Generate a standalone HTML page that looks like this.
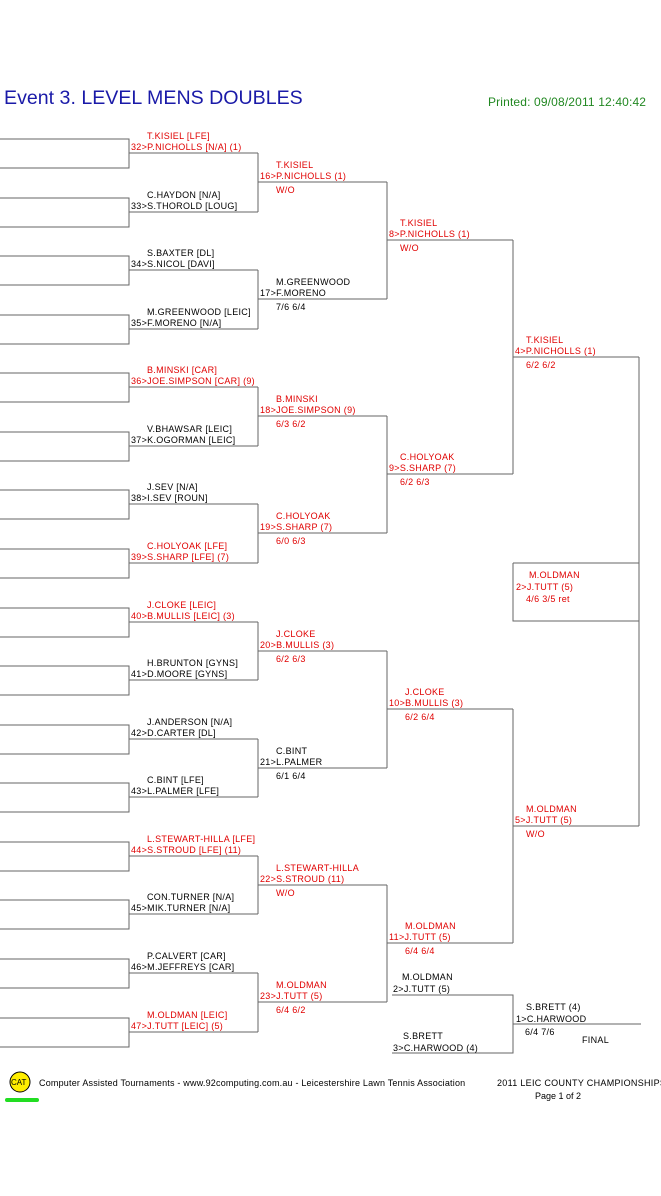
<!DOCTYPE html>
<html><head><meta charset="utf-8"><style>
html,body{margin:0;padding:0;background:#fff;}
svg{display:block;}
text{font-family:"Liberation Sans",Arial,sans-serif;font-size:9px;letter-spacing:0.3px;fill:#000;}
.r{fill:#e00000;}
</style></head><body>
<svg width="661" height="1196" viewBox="0 0 661 1196" xmlns="http://www.w3.org/2000/svg">
<rect width="661" height="1196" fill="#fff"/>
<text x="4" y="104" style="font-size:19.6px;letter-spacing:0;fill:#1a1aa8">Event 3. LEVEL MENS DOUBLES</text>
<text x="488" y="106" style="font-size:12px;letter-spacing:0.15px;fill:#228822">Printed: 09/08/2011 12:40:42</text>
<g fill="none" stroke="#666" stroke-width="1" shape-rendering="crispEdges">
<path d="M0 139H129V168H0M0 198H129V227H0M0 256H129V285H0M0 315H129V344H0M0 373H129V402H0M0 432H129V461H0M0 490H129V519H0M0 549H129V578H0M0 608H129V637H0M0 666H129V695H0M0 725H129V754H0M0 783H129V812H0M0 842H129V871H0M0 900H129V929H0M0 959H129V988H0M0 1018H129V1047H0"/>
<path d="M129 153H258M129 212H258M129 270H258M129 329H258M129 387H258M129 446H258M129 504H258M129 563H258M129 622H258M129 680H258M129 739H258M129 797H258M129 856H258M129 914H258M129 973H258M129 1032H258"/>
<path d="M258 153V212M258 270V329M258 387V446M258 504V563M258 622V680M258 739V797M258 856V914M258 973V1032"/>
<path d="M258 182H387M258 299H387M258 416H387M258 533H387M258 651H387M258 768H387M258 885H387M258 1002H387"/>
<path d="M387 182V299M387 416V533M387 651V768M387 885V1002"/>
<path d="M387 240H513M387 474H513M387 709H513M387 943H513"/>
<path d="M513 240V474M513 709V943"/>
<path d="M513 357H639M513 826H639M639 357V826"/>
<path d="M513 563H639M513 563V621H639"/>
<path d="M392 995H513V1053H392M513 1024H641"/>
</g>
<text x="147" y="139" class="r">T.KISIEL [LFE]</text><text x="131" y="150" class="r">32&gt;P.NICHOLLS [N/A] (1)</text>
<text x="147" y="198">C.HAYDON [N/A]</text><text x="131" y="209">33&gt;S.THOROLD [LOUG]</text>
<text x="147" y="256">S.BAXTER [DL]</text><text x="131" y="267">34&gt;S.NICOL [DAVI]</text>
<text x="147" y="315">M.GREENWOOD [LEIC]</text><text x="131" y="326">35&gt;F.MORENO [N/A]</text>
<text x="147" y="373" class="r">B.MINSKI [CAR]</text><text x="131" y="384" class="r">36&gt;JOE.SIMPSON [CAR] (9)</text>
<text x="147" y="432">V.BHAWSAR [LEIC]</text><text x="131" y="443">37&gt;K.OGORMAN [LEIC]</text>
<text x="147" y="490">J.SEV [N/A]</text><text x="131" y="501">38&gt;I.SEV [ROUN]</text>
<text x="147" y="549" class="r">C.HOLYOAK [LFE]</text><text x="131" y="560" class="r">39&gt;S.SHARP [LFE] (7)</text>
<text x="147" y="608" class="r">J.CLOKE [LEIC]</text><text x="131" y="619" class="r">40&gt;B.MULLIS [LEIC] (3)</text>
<text x="147" y="666">H.BRUNTON [GYNS]</text><text x="131" y="677">41&gt;D.MOORE [GYNS]</text>
<text x="147" y="725">J.ANDERSON [N/A]</text><text x="131" y="736">42&gt;D.CARTER [DL]</text>
<text x="147" y="783">C.BINT [LFE]</text><text x="131" y="794">43&gt;L.PALMER [LFE]</text>
<text x="147" y="842" class="r">L.STEWART-HILLA [LFE]</text><text x="131" y="853" class="r">44&gt;S.STROUD [LFE] (11)</text>
<text x="147" y="900">CON.TURNER [N/A]</text><text x="131" y="911">45&gt;MIK.TURNER [N/A]</text>
<text x="147" y="959">P.CALVERT [CAR]</text><text x="131" y="970">46&gt;M.JEFFREYS [CAR]</text>
<text x="147" y="1018" class="r">M.OLDMAN [LEIC]</text><text x="131" y="1029" class="r">47&gt;J.TUTT [LEIC] (5)</text>
<text x="276" y="168" class="r">T.KISIEL</text><text x="260" y="179" class="r">16&gt;P.NICHOLLS (1)</text><text x="276" y="193" class="r">W/O</text>
<text x="276" y="285">M.GREENWOOD</text><text x="260" y="296">17&gt;F.MORENO</text><text x="276" y="310">7/6 6/4</text>
<text x="276" y="402" class="r">B.MINSKI</text><text x="260" y="413" class="r">18&gt;JOE.SIMPSON (9)</text><text x="276" y="427" class="r">6/3 6/2</text>
<text x="276" y="519" class="r">C.HOLYOAK</text><text x="260" y="530" class="r">19&gt;S.SHARP (7)</text><text x="276" y="544" class="r">6/0 6/3</text>
<text x="276" y="637" class="r">J.CLOKE</text><text x="260" y="648" class="r">20&gt;B.MULLIS (3)</text><text x="276" y="662" class="r">6/2 6/3</text>
<text x="276" y="754">C.BINT</text><text x="260" y="765">21&gt;L.PALMER</text><text x="276" y="779">6/1 6/4</text>
<text x="276" y="871" class="r">L.STEWART-HILLA</text><text x="260" y="882" class="r">22&gt;S.STROUD (11)</text><text x="276" y="896" class="r">W/O</text>
<text x="276" y="988" class="r">M.OLDMAN</text><text x="260" y="999" class="r">23&gt;J.TUTT (5)</text><text x="276" y="1013" class="r">6/4 6/2</text>
<text x="400" y="226" class="r">T.KISIEL</text><text x="389" y="237" class="r">8&gt;P.NICHOLLS (1)</text><text x="400" y="251" class="r">W/O</text>
<text x="400" y="460" class="r">C.HOLYOAK</text><text x="389" y="471" class="r">9&gt;S.SHARP (7)</text><text x="400" y="485" class="r">6/2 6/3</text>
<text x="405" y="695" class="r">J.CLOKE</text><text x="389" y="706" class="r">10&gt;B.MULLIS (3)</text><text x="405" y="720" class="r">6/2 6/4</text>
<text x="405" y="929" class="r">M.OLDMAN</text><text x="389" y="940" class="r">11&gt;J.TUTT (5)</text><text x="405" y="954" class="r">6/4 6/4</text>
<text x="526" y="343" class="r">T.KISIEL</text><text x="515" y="354" class="r">4&gt;P.NICHOLLS (1)</text><text x="526" y="368" class="r">6/2 6/2</text>
<text x="526" y="812" class="r">M.OLDMAN</text><text x="515" y="823" class="r">5&gt;J.TUTT (5)</text><text x="526" y="837" class="r">W/O</text>
<text x="529" y="578" class="r">M.OLDMAN</text><text x="516" y="590" class="r">2&gt;J.TUTT (5)</text><text x="526" y="602" class="r">4/6 3/5 ret</text>
<text x="402" y="980">M.OLDMAN</text><text x="393" y="992">2&gt;J.TUTT (5)</text>
<text x="403" y="1039">S.BRETT</text><text x="393" y="1051">3&gt;C.HARWOOD (4)</text>
<text x="526" y="1010">S.BRETT (4)</text><text x="516" y="1022">1&gt;C.HARWOOD</text><text x="525" y="1035">6/4 7/6</text>
<text x="582" y="1043">FINAL</text>
<circle cx="20" cy="1082" r="10" fill="#ffee00" stroke="#000" stroke-width="1"/>
<text x="11" y="1085" style="font-size:8px;letter-spacing:0">CAT</text>
<rect x="5" y="1098" width="34" height="4" rx="2" fill="#22dd22"/>
<text x="39" y="1086" style="letter-spacing:0.2px">Computer Assisted Tournaments - www.92computing.com.au -  Leicestershire Lawn Tennis Association</text>
<text x="497" y="1086">2011 LEIC COUNTY CHAMPIONSHIPS</text>
<text x="535" y="1099" style="letter-spacing:0">Page 1 of 2</text>
</svg>
</body></html>
